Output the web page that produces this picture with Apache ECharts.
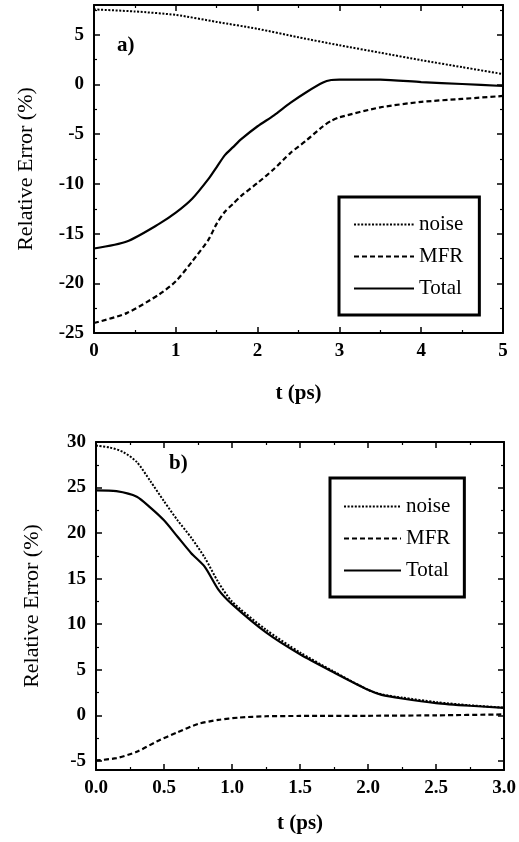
<!DOCTYPE html>
<html>
<head>
<meta charset="utf-8">
<script src="https://cdn.jsdelivr.net/npm/echarts@6/dist/echarts.min.js"></script>
<style>
  html, body { margin: 0; padding: 0; background: #fff; }
  #chart { width: 519px; height: 842px; }
</style>
</head>
<body>
<div id="chart"></div>
<script>
// ---- Panel a) data ----
const tNoiseA = [0, 0.5, 1.0, 1.5, 2.0, 2.5, 3.0, 3.5, 4.0, 4.5, 5.0];
const noiseA  = [7.55, 7.35, 7.0, 6.3, 5.6, 4.75, 3.95, 3.2, 2.45, 1.75, 1.05];
const tMfrA   = [0, 0.4, 0.8, 1.0, 1.2, 1.4, 1.5, 1.6, 1.7, 1.8, 2.0, 2.2, 2.4, 2.6, 2.8, 2.9, 3.0, 3.5, 4.0, 4.5, 5.0];
const mfrA    = [-24.0, -23.0, -21.1, -19.8, -17.8, -15.6, -14.0, -12.8, -12.0, -11.2, -9.9, -8.5, -6.9, -5.6, -4.2, -3.65, -3.3, -2.3, -1.75, -1.45, -1.15];
const tTotalA = [0, 0.4, 0.8, 1.0, 1.2, 1.4, 1.5, 1.6, 1.7, 1.8, 2.0, 2.2, 2.4, 2.6, 2.8, 2.9, 3.0, 3.5, 4.0, 4.5, 5.0];
const totalA  = [-16.5, -15.8, -14.0, -12.9, -11.5, -9.5, -8.3, -7.1, -6.3, -5.5, -4.2, -3.1, -1.85, -0.75, 0.2, 0.45, 0.5, 0.5, 0.25, 0.05, -0.15];

// ---- Panel b) data ----
const tNoiseB = [0, 0.1, 0.2, 0.3, 0.4, 0.5, 0.6, 0.7, 0.8, 0.9, 1.0, 1.25, 1.5, 1.75, 2.0, 2.1, 2.25, 2.5, 2.75, 3.0];
const noiseB  = [29.6, 29.4, 28.9, 27.8, 25.7, 23.5, 21.4, 19.5, 17.3, 14.6, 12.5, 9.4, 6.9, 4.8, 2.8, 2.3, 1.95, 1.45, 1.1, 0.85];
const tMfrB   = [0, 0.15, 0.3, 0.45, 0.6, 0.75, 0.9, 1.05, 1.25, 1.5, 2.0, 2.5, 3.0];
const mfrB    = [-4.95, -4.7, -4.0, -2.85, -1.85, -0.95, -0.5, -0.25, -0.1, -0.07, -0.05, 0.0, 0.1];
const tTotalB = [0, 0.15, 0.3, 0.4, 0.5, 0.6, 0.7, 0.8, 0.9, 1.0, 1.25, 1.5, 1.75, 2.0, 2.1, 2.25, 2.5, 2.75, 3.0];
const totalB  = [24.7, 24.6, 24.0, 22.8, 21.4, 19.6, 17.8, 16.3, 13.8, 12.2, 9.1, 6.7, 4.7, 2.8, 2.25, 1.85, 1.35, 1.05, 0.82];

const seriesNames = ['noise', 'MFR', 'Total'];
// tick values
const yTicksA = [-25, -20, -15, -10, -5, 0, 5];
const yTicksB = [-5, 0, 5, 10, 15, 20, 25, 30];
const yMinorB = [-2.5, 2.5, 7.5, 12.5, 17.5, 22.5, 27.5];

const zip = (xs, ys) => xs.map((x, i) => [x, ys[i]]);

const FONT = 'Liberation Serif';
const lineStyles = {
  noise: { color: '#000', width: 2, type: [2, 1.6] },
  MFR:   { color: '#000', width: 2.2, type: [5, 3] },
  Total: { color: '#000', width: 2.2, type: 'solid' }
};
const labelStyle = { fontFamily: FONT, fontSize: 19, fontWeight: 'bold', color: '#000' };

function xAxisDef(grid, min, max, interval, fmt, nameGap, mirror) {
  return {
    type: 'value', gridIndex: grid, min: min, max: max, interval: interval,
    position: mirror ? 'top' : 'bottom',
    name: mirror ? '' : 't (ps)', nameLocation: 'middle', nameGap: nameGap,
    nameTextStyle: { fontFamily: FONT, fontSize: 21, fontWeight: 'bold', color: '#000' },
    axisLine: { show: true, onZero: false, lineStyle: { color: '#000', width: 2 } },
    axisTick: { show: true, inside: true, length: 6, lineStyle: { color: '#000', width: 1.5 } },
    minorTick: { show: true, splitNumber: 2, length: 3, lineStyle: { color: '#000', width: 1.2 } },
    axisLabel: Object.assign({ show: !mirror, margin: 9, formatter: fmt }, labelStyle),
    splitLine: { show: false }
  };
}
function yAxisA(nameGap, mirror) {
  return {
    type: 'value', gridIndex: 0, min: -25, max: 8, interval: 5,
    position: mirror ? 'right' : 'left',
    name: mirror ? '' : 'Relative Error (%)', nameLocation: 'middle', nameGap: nameGap,
    nameTextStyle: { fontFamily: FONT, fontSize: 22, color: '#000' },
    axisLine: { show: true, onZero: false, lineStyle: { color: '#000', width: 2 } },
    axisTick: { show: true, inside: true, length: 6, lineStyle: { color: '#000', width: 1.5 } },
    minorTick: { show: true, splitNumber: 2, length: 3, lineStyle: { color: '#000', width: 1.2 } },
    axisLabel: Object.assign({ show: !mirror, margin: 10, showMaxLabel: false }, labelStyle),
    splitLine: { show: false }
  };
}
function yAxisB(nameGap, mirror, minor) {
  return {
    type: 'value', gridIndex: 1, min: -6, max: 30,
    position: mirror ? 'right' : 'left',
    name: (mirror || minor) ? '' : 'Relative Error (%)', nameLocation: 'middle', nameGap: nameGap,
    nameTextStyle: { fontFamily: FONT, fontSize: 22, color: '#000' },
    axisLine: { show: !minor, onZero: false, lineStyle: { color: '#000', width: 2 } },
    axisTick: { show: true, inside: true, length: minor ? 3 : 6,
                customValues: minor ? yMinorB : yTicksB,
                lineStyle: { color: '#000', width: minor ? 1.2 : 1.5 } },
    minorTick: { show: false },
    axisLabel: Object.assign({ show: !(mirror || minor), margin: 10, customValues: yTicksB }, labelStyle),
    splitLine: { show: false }
  };
}

function line(name, xs, ys, xi, yi) {
  return {
    type: 'line', name: name, xAxisIndex: xi, yAxisIndex: yi,
    data: zip(xs, ys), symbol: 'none', smooth: 0.25,
    lineStyle: lineStyles[name], itemStyle: { color: '#000' },
    animation: false
  };
}

function legendDef(left, top, itemW, padding, gap) {
  return {
    orient: 'vertical', left: left, top: top,
    data: seriesNames.map(n => ({ name: n })),
    itemWidth: itemW, itemHeight: 14, itemGap: gap,
    padding: padding,
    borderColor: '#000', borderWidth: 3,
    itemStyle: { opacity: 0, color: 'rgba(0,0,0,0)', borderWidth: 0, borderColor: 'rgba(0,0,0,0)' },
    textStyle: { fontFamily: FONT, fontSize: 21, color: '#000', lineHeight: 20 },
    selectedMode: false
  };
}

const chart = echarts.init(document.getElementById('chart'), null, { renderer: 'canvas' });

const option = {
  backgroundColor: '#fff',
  animation: false,
  title: [
    { text: 'a)', left: 112, top: 30, textStyle: { fontFamily: FONT, fontSize: 21, fontWeight: 'bold', color: '#000' } },
    { text: 'b)', left: 164, top: 448, textStyle: { fontFamily: FONT, fontSize: 21, fontWeight: 'bold', color: '#000' } }
  ],
  grid: [
    { left: 94, right: 16, top: 5, height: 328 },
    { left: 96, right: 15, top: 442, height: 328 }
  ],
  xAxis: [
    xAxisDef(0, 0, 5, 1, v => String(v), 50, false),
    xAxisDef(1, 0, 3, 0.5, v => v.toFixed(1), 43, false),
    xAxisDef(0, 0, 5, 1, v => String(v), 0, true),
    xAxisDef(1, 0, 3, 0.5, v => v.toFixed(1), 0, true)
  ],
  yAxis: [
    yAxisA(57, false),
    yAxisB(53, false, false),
    yAxisA(0, true),
    yAxisB(0, true, false),
    yAxisB(0, false, true),
    yAxisB(0, true, true)
  ],
  legend: [
    legendDef(339, 197, 60, [17, 16, 16, 14], 11),
    legendDef(330, 478, 57, [18, 14, 16, 13], 11)
  ],
  series: [
    line('noise', tNoiseA, noiseA, 0, 0),
    line('MFR', tMfrA, mfrA, 0, 0),
    line('Total', tTotalA, totalA, 0, 0),
    line('noise', tNoiseB, noiseB, 1, 1),
    line('MFR', tMfrB, mfrB, 1, 1),
    line('Total', tTotalB, totalB, 1, 1)
  ]
};
chart.setOption(option);
</script>
</body>
</html>
